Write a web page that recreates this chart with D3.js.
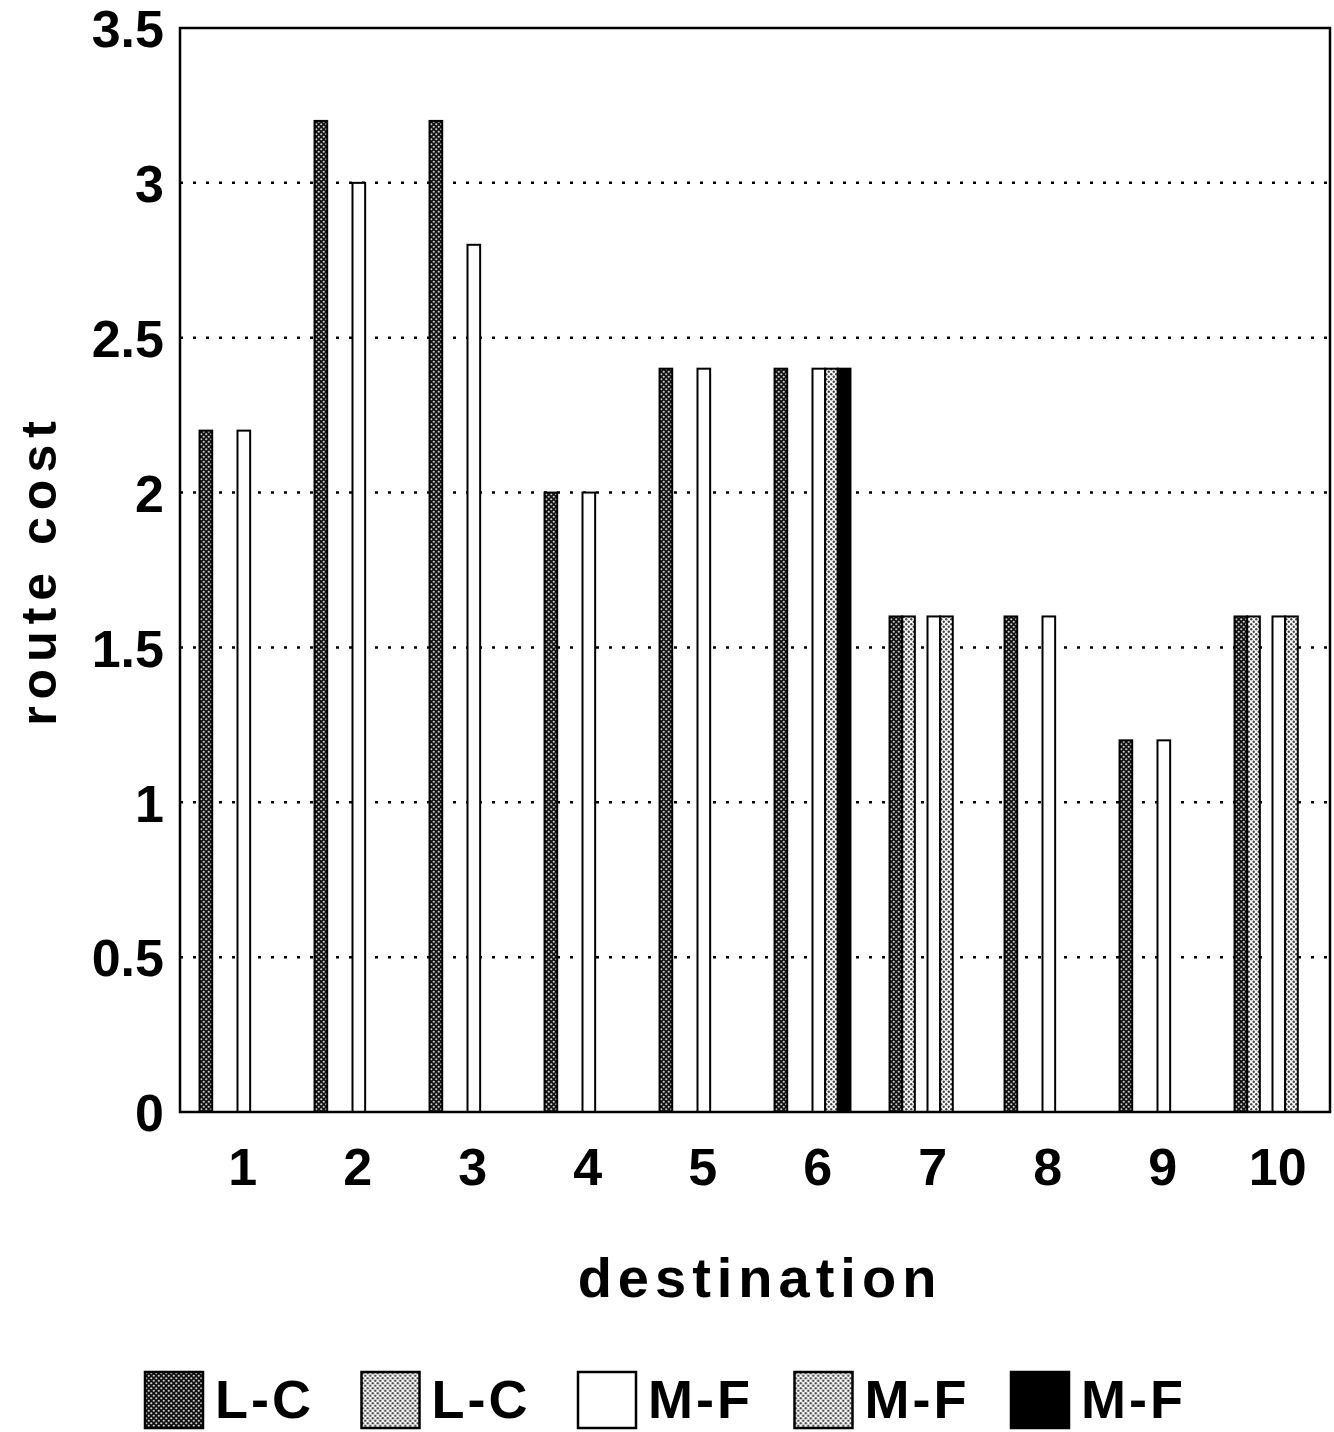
<!DOCTYPE html>
<html>
<head>
<meta charset="utf-8">
<script src="https://cdn.jsdelivr.net/npm/d3@7"></script>
<style>
  body { margin: 0; background: #fff; }
  svg { display: block; }
  text { font-family: "Liberation Sans", Arial, sans-serif; font-weight: bold; fill: #000; }
</style>
</head>
<body>
<svg id="chart" width="1334" height="1432"></svg>
<script>
'use strict';

// Data
const destinations = ['1', '2', '3', '4', '5', '6', '7', '8', '9', '10'];
const seriesKeys = ['lc1', 'lc2', 'mf1', 'mf2', 'mf3'];
const seriesLabels = ['L-C', 'L-C', 'M-F', 'M-F', 'M-F'];
const lc1 = [2.2, 3.2, 3.2, 2.0, 2.4, 2.4, 1.6, 1.6, 1.2, 1.6];
const lc2 = [0, 0, 0, 0, 0, 0, 1.6, 0, 0, 1.6];
const mf1 = [2.2, 3.0, 2.8, 2.0, 2.4, 2.4, 1.6, 1.6, 1.2, 1.6];
const mf2 = [0, 0, 0, 0, 0, 2.4, 1.6, 0, 0, 1.6];
const mf3 = [0, 0, 0, 0, 0, 2.4, 0, 0, 0, 0];
const yTicks = [0, 0.5, 1, 1.5, 2, 2.5, 3, 3.5];

const values = { lc1, lc2, mf1, mf2, mf3 };

const margin = { top: 28, right: 4, bottom: 320, left: 180 };
const W = 1334, H = 1432;
const w = W - margin.left - margin.right;
const h = H - margin.top - margin.bottom;

const svg = d3.select('#chart');

// Fill patterns (dotted screens like the printed original)
const defs = svg.append('defs');
function dotPattern(id, bg, dot, size, r) {
  const p = defs.append('pattern')
    .attr('id', id)
    .attr('patternUnits', 'userSpaceOnUse')
    .attr('width', size).attr('height', size);
  p.append('rect').attr('width', size).attr('height', size).attr('fill', bg);
  p.append('circle').attr('cx', size / 4).attr('cy', size / 4).attr('r', r).attr('fill', dot);
  p.append('circle').attr('cx', size * 3 / 4).attr('cy', size * 3 / 4).attr('r', r).attr('fill', dot);
}
dotPattern('pDark', '#111', '#ccc', 5, 1.1);
dotPattern('pLight', '#fff', '#444', 5, 1.2);

const fills = {
  lc1: 'url(#pDark)',
  lc2: 'url(#pLight)',
  mf1: '#fff',
  mf2: 'url(#pLight)',
  mf3: '#000',
};

const g = svg.append('g').attr('transform', `translate(${margin.left},${margin.top})`);

const x = d3.scaleBand().domain(destinations).range([0, w]);
// six slots per group, the third one stays empty
const slots = ['lc1', 'lc2', 'gap', 'mf1', 'mf2', 'mf3'];
const xInner = d3.scaleBand().domain(slots)
  .range([x.bandwidth() * 0.17, x.bandwidth() * 0.83]);
const y = d3.scaleLinear().domain([0, 3.5]).range([h, 0]);

// Dotted grid lines
g.append('g')
  .selectAll('line')
  .data(yTicks.filter(t => t > 0 && t < 3.5))
  .join('line')
  .attr('x1', 0).attr('x2', w)
  .attr('y1', d => y(d)).attr('y2', d => y(d))
  .attr('stroke', '#000')
  .attr('stroke-width', 2.5)
  .attr('stroke-dasharray', '3,10');

// Bars
const rows = [];
destinations.forEach((dest, i) => {
  seriesKeys.forEach(k => {
    if (values[k][i] > 0) rows.push({ dest, key: k, value: values[k][i] });
  });
});

g.append('g')
  .selectAll('rect')
  .data(rows)
  .join('rect')
  .attr('x', d => x(d.dest) + xInner(d.key))
  .attr('y', d => y(d.value))
  .attr('width', xInner.bandwidth())
  .attr('height', d => y(0) - y(d.value))
  .attr('fill', d => fills[d.key])
  .attr('stroke', '#000')
  .attr('stroke-width', 2);

// Frame
g.append('rect')
  .attr('width', w).attr('height', h)
  .attr('fill', 'none')
  .attr('stroke', '#000')
  .attr('stroke-width', 2.5);

// Y axis
const yAxis = d3.axisLeft(y).tickValues(yTicks).tickSize(0).tickPadding(16)
  .tickFormat(d3.format('~g'));
g.append('g').call(yAxis)
  .call(s => s.select('.domain').remove())
  .selectAll('text')
  .attr('font-size', 52)
  .attr('dy', '0.36em');

// X axis
const xAxis = d3.axisBottom(x).tickSize(0).tickPadding(36);
g.append('g')
  .attr('transform', `translate(0,${h})`)
  .call(xAxis)
  .call(s => s.select('.domain').remove())
  .selectAll('text')
  .attr('font-size', 52)
  .attr('dx', '0.1em');

// Axis titles
svg.append('text')
  .attr('x', 760)
  .attr('y', 1297)
  .attr('text-anchor', 'middle')
  .attr('font-size', 56)
  .attr('letter-spacing', 6)
  .text('destination');

svg.append('text')
  .attr('transform', 'translate(56,570) rotate(-90)')
  .attr('text-anchor', 'middle')
  .attr('font-size', 50)
  .attr('letter-spacing', 7)
  .text('route cost');

// Legend
const legend = svg.append('g').attr('transform', 'translate(145,1372)');
const legendStep = d3.scalePoint().domain(seriesKeys).range([0, 866]);
const item = legend.selectAll('g')
  .data(seriesKeys)
  .join('g')
  .attr('transform', d => `translate(${legendStep(d)},0)`);

item.append('rect')
  .attr('width', 58).attr('height', 56)
  .attr('fill', d => fills[d])
  .attr('stroke', '#000')
  .attr('stroke-width', 2.5);

item.append('text')
  .attr('x', 70).attr('y', 46)
  .attr('font-size', 54)
  .attr('letter-spacing', 3)
  .text((d, i) => seriesLabels[i]);
</script>
</body>
</html>
